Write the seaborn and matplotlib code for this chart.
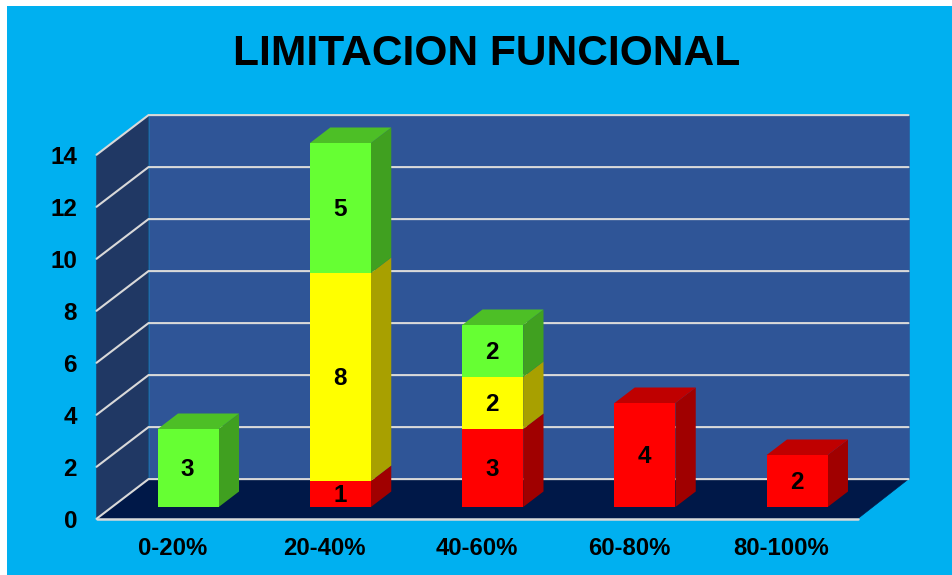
import matplotlib
matplotlib.use("Agg")
import matplotlib.pyplot as plt
from matplotlib.patches import Polygon, Rectangle
import numpy as np
import pandas as pd
import seaborn as sns

categories = ["0-20%", "20-40%", "40-60%", "60-80%", "80-100%"]
red_values = [0, 1, 3, 4, 2]
yellow_values = [0, 8, 2, 0, 0]
green_values = [3, 5, 2, 0, 0]
y_ticks = [0, 2, 4, 6, 8, 10, 12, 14]
title_text = "LIMITACION FUNCIONAL"

W, H = 952, 575
LEFT, RIGHT, FLOOR_Y, TOP_Y = 96.5, 857.7, 518.8, 154.8
CAT_PX = (RIGHT - LEFT) / 5
UNIT_PX = (FLOOR_Y - TOP_Y) / 14

BG = "#00b0f0"
BACK = "#2f5597"
WALL = "#203864"
FLOOR = "#001848"
GRID = "#d9d9d9"
# front, top and side shades of each stacked series
RED = ("#ff0000", "#bf0000", "#a00000")
YELLOW = ("#ffff00", "#bfbf00", "#a8a000")
GREEN = ("#66ff33", "#4dbf26", "#40a020")

sns.set_style("white")
plt.rcParams["font.family"] = ["Liberation Sans", "DejaVu Sans"]

fig = plt.figure(figsize=(W / 100, H / 100), dpi=100, facecolor="white")
fig.patches.append(Rectangle((7 / W, 0), 1 - 7 / W, 1 - 6 / H, transform=fig.transFigure,
                             facecolor=BG, edgecolor="none", zorder=-5))
fig.text(487 / W, 1 - 54.3 / H, title_text, ha="center", va="center",
         fontsize=30.6, fontweight="bold", color="black")


def frame_box(px_dx=0.0, px_dy=0.0):
    return [(LEFT + px_dx) / W, (H - FLOOR_Y + px_dy) / H, (RIGHT - LEFT) / W, (FLOOR_Y - TOP_Y) / H]


# Chart frame: back wall, side wall and floor share the value and category scales
ax = fig.add_axes(frame_box())
ax.patch.set_visible(False)
ax.set_xlim(-0.5, 4.5)
ax.set_ylim(0, 14)
for spine in ax.spines.values():
    spine.set_visible(False)

wall_dx = 52 / CAT_PX
wall_dx_right = 50.8 / CAT_PX
wall_dy = 39.7 / UNIT_PX
x0, x1 = -0.5, 4.5
back_left, back_right = x0 + wall_dx, x1 + wall_dx_right
ax.add_patch(Polygon([(back_left, wall_dy), (back_right, wall_dy),
                      (back_right, 14 + wall_dy), (back_left, 14 + wall_dy)],
                     facecolor=BACK, edgecolor=BACK, lw=0.4, clip_on=False, zorder=1))
ax.add_patch(Polygon([(x0, 0), (back_left, wall_dy), (back_left, 14 + wall_dy), (x0, 14)],
                     facecolor=WALL, edgecolor=WALL, lw=0.4, clip_on=False, zorder=1))
ax.add_patch(Polygon([(x0, 0), (x1, 0), (back_right, wall_dy), (back_left, wall_dy)],
                     facecolor=FLOOR, edgecolor=FLOOR, lw=0.4, clip_on=False, zorder=1))
for v in y_ticks:
    ax.plot([x0, back_left, back_right], [v, v + wall_dy, v + wall_dy],
            color=GRID, lw=1.5, clip_on=False, zorder=2, solid_joinstyle="miter")
ax.plot([x0, x1], [0, 0], color=GRID, lw=1.8, clip_on=False, zorder=2)

ax.set_xticks(range(len(categories)))
ax.set_xticklabels(categories, fontsize=17.2, fontweight="bold", color="black")
ax.set_yticks(y_ticks)
ax.set_yticklabels([str(v) for v in y_ticks], fontsize=17.5, fontweight="bold", color="black")
ax.tick_params(axis="x", length=0, pad=13)
ax.tick_params(axis="y", length=0, pad=14)

# Bars sit a little inside the floor, so their axes is shifted into the depth
bars = fig.add_axes(frame_box(15.6, 11.8), zorder=3)
bars.patch.set_visible(False)

series = [(red_values, RED), (yellow_values, YELLOW), (green_values, GREEN)]
bar_width = 61 / CAT_PX
stacks = np.cumsum([s[0] for s in series], axis=0)
frame = pd.DataFrame({"category": categories})

# Cumulative totals are painted from the tallest down to leave a stacked look
for level in range(len(series) - 1, -1, -1):
    frame["total"] = stacks[level]
    sns.barplot(data=frame, x="category", y="total", order=categories, color=series[level][1][0],
                saturation=1, width=bar_width, ax=bars, zorder=4, clip_on=False, errorbar=None,
                linewidth=0, edgecolor="none")

bars.set_xlim(-0.5, 4.5)
bars.set_ylim(0, 14)
bars.axis("off")

depth_dx = 20.3 / CAT_PX
depth_dy = 15.5 / UNIT_PX
label_drop = 1.8 / UNIT_PX
label_left = 0.7 / CAT_PX
half = bar_width / 2
for i in range(len(categories)):
    base = 0
    top_shade = None
    for values, shades in series:
        v = values[i]
        if v == 0:
            continue
        right = i + half
        bars.add_patch(Polygon([(right, base), (right + depth_dx, base + depth_dy),
                                (right + depth_dx, base + v + depth_dy), (right, base + v)],
                               facecolor=shades[2], edgecolor="none", clip_on=False, zorder=3))
        bars.text(i - label_left, base + v / 2 - label_drop, str(v), ha="center", va="center",
                  fontsize=17.5, fontweight="bold", color="black", zorder=6)
        base += v
        top_shade = shades[1]
    bars.add_patch(Polygon([(i - half, base), (i + half, base),
                            (i + half + depth_dx, base + depth_dy),
                            (i - half + depth_dx, base + depth_dy)],
                           facecolor=top_shade, edgecolor="none", clip_on=False, zorder=3))

fig.savefig("out.png", dpi=100, facecolor=fig.get_facecolor())
